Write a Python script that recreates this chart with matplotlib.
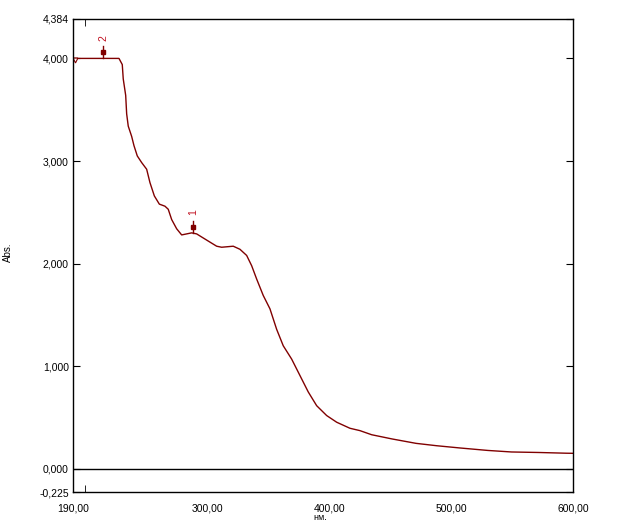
import matplotlib
matplotlib.use("Agg")
import matplotlib.pyplot as plt

plt.rcParams['font.family'] = ['Liberation Sans', 'DejaVu Sans']

# spectrum
wavelength = [190, 200, 210, 220, 227.7, 230.4, 231.2, 233.2, 234.0, 235.3, 238.1, 240.0,
              242.7, 246.3, 250.4, 253.1, 256.7, 260.8, 265.4, 268.1, 270.9, 275.0,
              279.1, 283.2, 287.3, 291.4, 294.1, 302.3, 307.8, 311.9, 321.4, 326.9,
              332.4, 336.5, 340.6, 346.0, 351.5, 357.0, 362.4, 369.3, 376.1, 382.9,
              389.8, 398.0, 406.2, 417.1, 425.3, 434.9, 451.6, 471.3, 488.1, 507.3,
              530.1, 549.6, 572.1, 594.3, 600]
absorb = [4.0, 4.0, 4.0, 4.0, 4.0, 3.94, 3.80, 3.64, 3.46, 3.34, 3.24, 3.15,
          3.05, 2.985, 2.92, 2.79, 2.66, 2.58, 2.56, 2.53, 2.43, 2.34,
          2.28, 2.29, 2.30, 2.29, 2.27, 2.21, 2.17, 2.16, 2.17, 2.14,
          2.08, 1.98, 1.85, 1.69, 1.56, 1.36, 1.20, 1.07, 0.91, 0.75,
          0.616, 0.52, 0.455, 0.396, 0.373, 0.333, 0.292, 0.249, 0.226, 0.204,
          0.180, 0.165, 0.160, 0.153, 0.152]

# peak picks
peak_x = [288.4, 214.6]
peak_y = [2.30, 4.0]
peak_lbl = ["1", "2"]

xtick_pos = [190, 300, 400, 500, 600]
xtick_lbl = ["190,00", "300,00", "400,00", "500,00", "600,00"]
xmark_pos = [200, 300, 400, 500]
ytick_pos = [-0.225, 0, 1, 2, 3, 4, 4.384]
ytick_lbl = ["-0,225", "0,000", "1,000", "2,000", "3,000", "4,000", "4,384"]

fig = plt.figure(figsize=(6.42, 5.26), dpi=100)
ax = fig.add_axes([73 / 642, 34 / 526, 500 / 642, 473 / 526])

ax.plot(wavelength, absorb, color="#800000", lw=1.0)
ax.axhline(0, color="black", lw=1.0)

for x, y, t in zip(peak_x, peak_y, peak_lbl):
    ax.plot([x, x], [y, y + 0.12], color="#800000", lw=1.0)
    ax.plot([x], [y + 0.06], marker="s", ms=3, color="#800000")
    ax.text(x, y + 0.17, t, rotation=90, color="#c01020", fontsize=7.5,
            ha="center", va="bottom")

ax.plot([191.5], [3.985], marker="v", ms=3.5, mfc="white", mec="#800000", mew=0.8)

ax.set_xlim(190, 600)
ax.set_ylim(-0.225, 4.384)
ax.set_xticks(xtick_pos)
ax.set_xticklabels(xtick_lbl)
ax.set_xticks(xmark_pos, minor=True)
ax.tick_params(axis="x", which="major", length=0, labelsize=7.5, pad=8)
ax.tick_params(axis="x", which="minor", direction="in", length=5, top=True, bottom=True)
ax.set_yticks(ytick_pos)
ax.set_yticklabels(ytick_lbl)
ax.tick_params(axis="y", direction="in", length=5, right=True, labelsize=7.5, pad=3)

for s in ax.spines.values():
    s.set_linewidth(1.0)

fig.text(8 / 642, 1 - 252 / 526, "Abs.", rotation=90, fontsize=7, ha="center", va="center")
fig.text(320 / 642, 1 - 518 / 526, "нм.", fontsize=6.5, ha="center", va="center")

fig.savefig("out.png", dpi=100)
